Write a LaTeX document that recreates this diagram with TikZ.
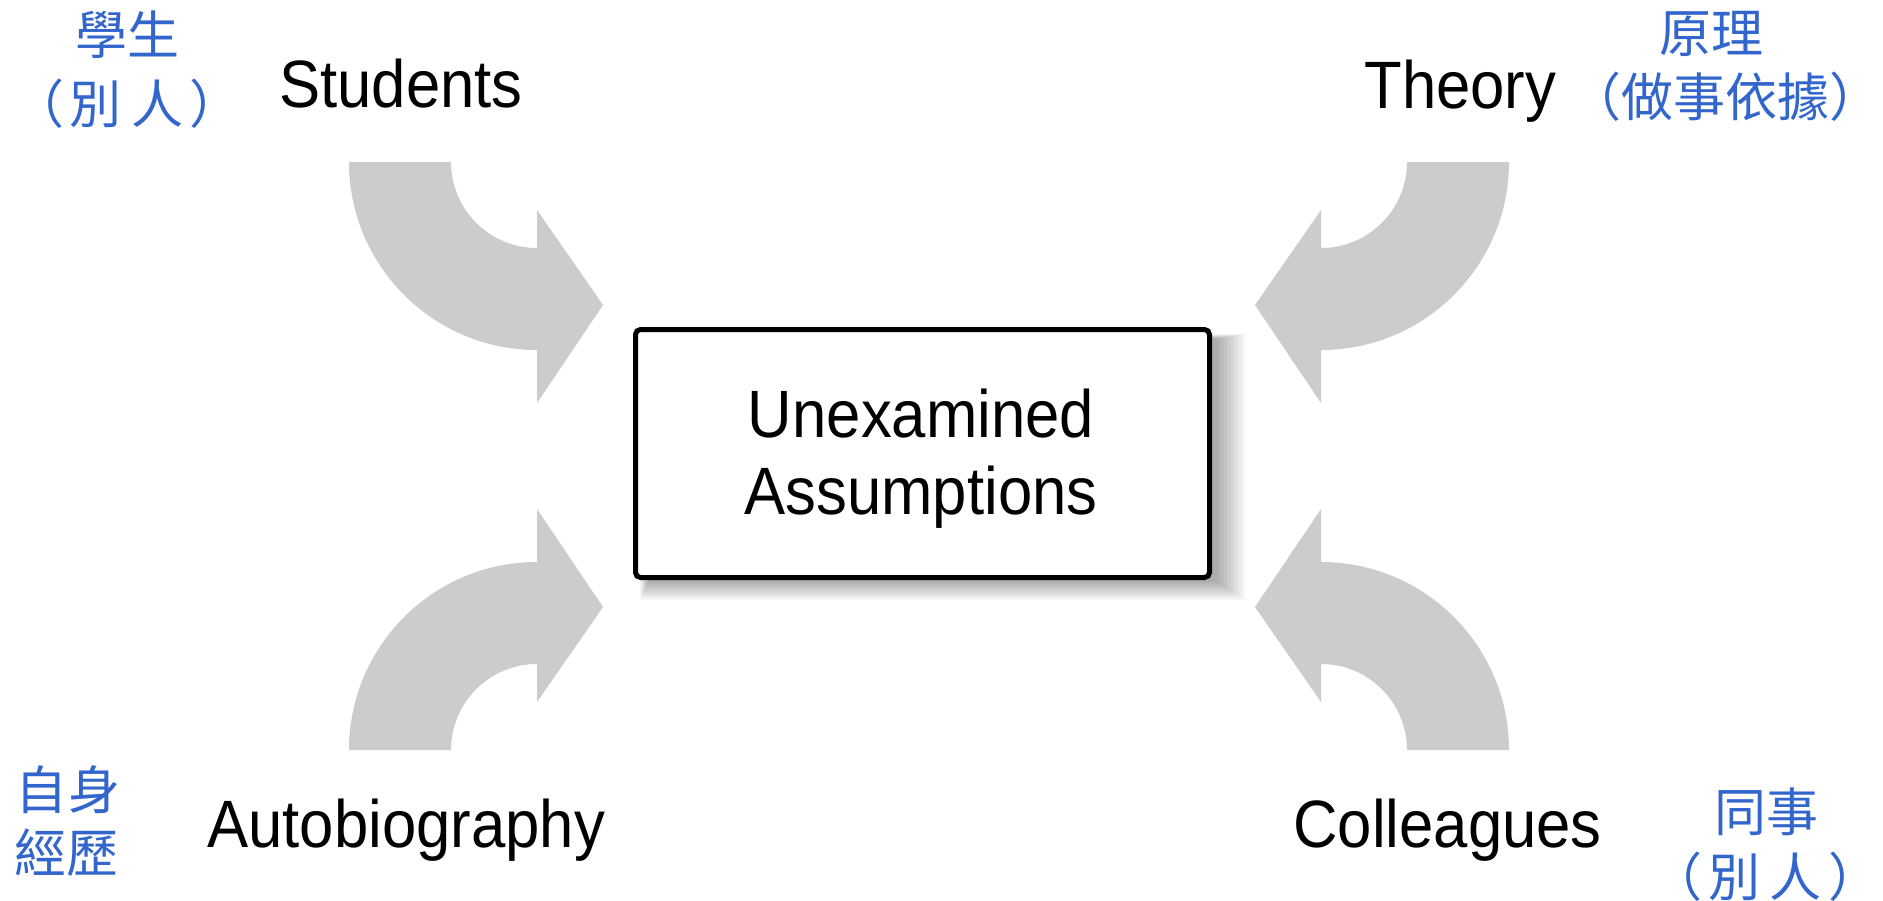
\documentclass[tikz,border=0pt]{standalone}
\usepackage{fontspec}
\setmainfont{Liberation Sans}
\newfontfamily\pixfont{Liberation Sans}[FakeStretch=0.92]
\newfontfamily\cjkfont{Noto Sans CJK TC}
\definecolor{arrowgray}{RGB}{204,204,204}
\definecolor{cjkblue}{RGB}{51,102,204}
\newcommand\curvedarrowshape{%
  \fill[arrowgray] (-188,0) arc[start angle=180, end angle=90, radius=188]
    -- (0,241) -- (66,143) -- (0,48) -- (0,86)
    arc[start angle=90, end angle=180, radius=86] -- cycle;}
\tikzset{
  lab/.style={inner sep=0pt, font=\pixfont\fontsize{33.5}{38.5}\selectfont},
  cjk/.style={inner sep=0pt, text=cjkblue, font=\cjkfont\fontsize{26}{30}\selectfont},
  mainbox/.style={draw=black, line width=2.5pt, rounded corners=2.5pt, fill=white,
    minimum width=287pt, minimum height=124pt, inner sep=0pt}
}
\begin{document}
\begin{tikzpicture}[x=0.5pt, y=-0.5pt]
\useasboundingbox (0,0) rectangle (1883,900);
\fill[white] (0,0) rectangle (1883,900);

% curved arrows
\begin{scope}[shift={(537,162)}] \curvedarrowshape \end{scope}
\begin{scope}[shift={(1321,162)}, xscale=-1] \curvedarrowshape \end{scope}
\begin{scope}[shift={(537,750)}, yscale=-1] \curvedarrowshape \end{scope}
\begin{scope}[shift={(1321,750)}, xscale=-1, yscale=-1] \curvedarrowshape \end{scope}

% shadow of the box
\foreach \k in {0,...,9}
  \fill[black, opacity=0.035] (640+\k, 334+0.5*\k) rectangle (1245-3*\k, 600-2*\k);

% central box
\node[mainbox] (box) at (922.5,453.5) {};
\node[lab, align=center] (boxtext) at (921,459) {Unexamined\\Assumptions};

% English labels
\node[lab, anchor=base west] (students) at (279,107) {Students};
\node[lab, anchor=base west] (theory) at (1364,108) {Theory};
\node[lab, anchor=base west] (auto) at (207,847) {Autobiography};
\node[lab, anchor=base west] (colleagues) at (1293,847) {Colleagues};

% Chinese labels
\node[cjk] (xuesheng) at (127,35) {學生};
\node[cjk] (bieren1) at (127,104) {（\kern3pt 別\kern5pt 人\kern3pt ）};
\node[cjk] (yuanli) at (1711,34) {原理};
\node[cjk, anchor=east] (yiju) at (1882,97) {（做事依據）};
\node[cjk] (zishen) at (68,790) {自身};
\node[cjk] (jingli) at (66,853) {經歷};
\node[cjk] (tongshi) at (1766,812) {同事};
\node[cjk] (bieren2) at (1765,877) {（\kern3pt 別\kern5pt 人\kern3pt ）};
\end{tikzpicture}
\end{document}
